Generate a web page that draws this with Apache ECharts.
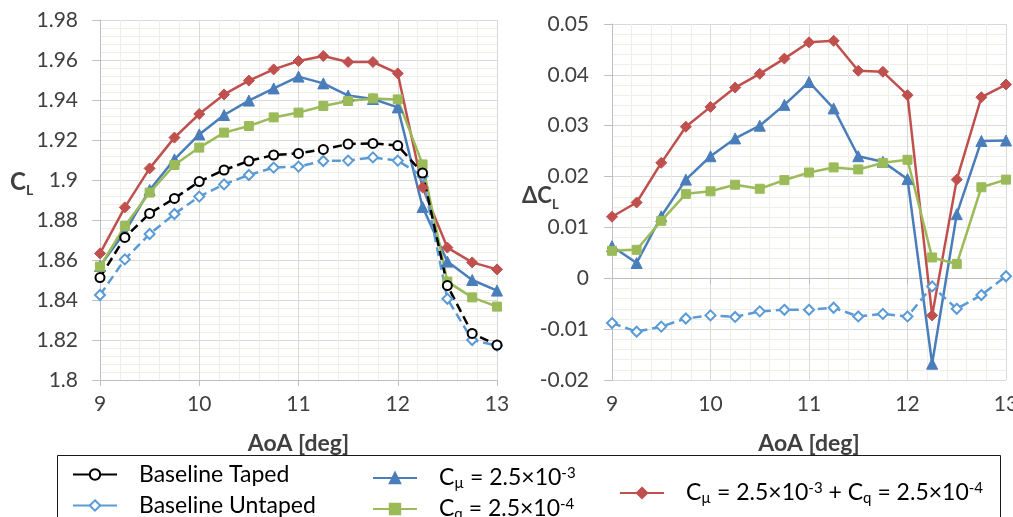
<!DOCTYPE html>
<html>
<head>
<meta charset="utf-8">
<script src="https://cdn.jsdelivr.net/npm/echarts@6/dist/echarts.min.js"></script>
<style>
  html, body { margin: 0; padding: 0; background: #fff; }
  #chart { width: 1013px; height: 517px; }
</style>
</head>
<body>
<div id="chart"></div>
<script>
// Angle of attack stations [deg]
const aoa = [9, 9.25, 9.5, 9.75, 10, 10.25, 10.5, 10.75, 11, 11.25, 11.5, 11.75, 12, 12.25, 12.5, 12.75, 13];

// Lift coefficient C_L
const clTaped   = [1.8512, 1.8713, 1.8833, 1.8908, 1.8992, 1.9050, 1.9095, 1.9125, 1.9133, 1.9153, 1.9180, 1.9183, 1.9172, 1.9035, 1.8472, 1.8233, 1.8175];
const clUntaped = [1.8425, 1.8603, 1.8730, 1.8830, 1.8917, 1.8978, 1.9025, 1.9062, 1.9067, 1.9095, 1.9097, 1.9113, 1.9097, 1.9019, 1.8406, 1.8200, 1.8172];
const clCmu     = [1.8570, 1.8740, 1.8950, 1.9103, 1.9228, 1.9325, 1.9397, 1.9458, 1.9517, 1.9483, 1.9422, 1.9405, 1.9363, 1.8865, 1.8592, 1.8500, 1.8447];
const clCq      = [1.8567, 1.8770, 1.8937, 1.9075, 1.9162, 1.9237, 1.9270, 1.9313, 1.9337, 1.9370, 1.9395, 1.9408, 1.9403, 1.9078, 1.8492, 1.8413, 1.8367];
const clBoth    = [1.8633, 1.8863, 1.9058, 1.9212, 1.9330, 1.9428, 1.9497, 1.9553, 1.9595, 1.9620, 1.9590, 1.9590, 1.9533, 1.8963, 1.8662, 1.8588, 1.8553];

// Lift increment relative to the taped baseline, dC_L
const dclUntaped = [-0.0088, -0.0105, -0.0095, -0.0079, -0.0073, -0.0076, -0.0065, -0.0062, -0.0062, -0.0058, -0.0075, -0.0070, -0.0075, -0.0016, -0.0060, -0.0033, 0.0004];
const dclCmu     = [0.0063, 0.0030, 0.0122, 0.0194, 0.0240, 0.0275, 0.0300, 0.0341, 0.0386, 0.0334, 0.0240, 0.0229, 0.0195, -0.0168, 0.0126, 0.0270, 0.0271];
const dclCq      = [0.0054, 0.0056, 0.0113, 0.0166, 0.0171, 0.0184, 0.0176, 0.0193, 0.0208, 0.0218, 0.0214, 0.0227, 0.0233, 0.0041, 0.0028, 0.0179, 0.0194];
const dclBoth    = [0.0121, 0.0149, 0.0227, 0.0298, 0.0337, 0.0375, 0.0402, 0.0432, 0.0464, 0.0467, 0.0408, 0.0406, 0.0360, -0.0073, 0.0194, 0.0356, 0.0381];

// Axis ticks
const xTicks  = { min: 9, max: 13, step: 1 };
const clTicks = { min: 1.8, max: 1.98, step: 0.02 };
const dTicks  = { min: -0.02, max: 0.05, step: 0.01 };

// Series names (legend)
const NAME_TAPED = 'Baseline Taped';
const NAME_UNTAPED = 'Baseline Untaped';
const NAME_CMU = 'Cmu';
const NAME_CQ = 'Cq';
const NAME_BOTH = 'Cmu+Cq';

const pairs = (ys) => aoa.map((x, i) => [x, ys[i]]);

const FONT = 'Lato, "Open Sans", sans-serif';
const TXT = '#404040';
const C_BLACK = '#000000';
const C_UNTAPED = '#5b9bd5';
const C_CMU = '#4a7ebb';
const C_CQ = '#9bbb59';
const C_BOTH = '#c0504d';

const chart = echarts.init(document.getElementById('chart'), null, { renderer: 'canvas' });

const gridLines = {
  splitLine: { show: true, lineStyle: { color: '#d9d9d9', width: 1 } },
  minorTick: { show: false, splitNumber: 5 },
  minorSplitLine: { show: true, lineStyle: { color: '#efefe8', width: 1 } }
};
const axisLabel = { color: TXT, fontFamily: FONT, fontSize: 21 };
const axisName = { fontFamily: FONT, fontSize: 23, fontWeight: 'bold', color: TXT };

function styled(base, extra) { return Object.assign({}, base, extra); }

const seriesDefs = [
  { name: NAME_BOTH, color: C_BOTH, symbol: 'diamond', size: 11, hollow: false, dashed: false },
  { name: NAME_CMU, color: C_CMU, symbol: 'triangle', size: 11, hollow: false, dashed: false },
  { name: NAME_CQ, color: C_CQ, symbol: 'rect', size: 9, hollow: false, dashed: false },
  { name: NAME_UNTAPED, color: C_UNTAPED, symbol: 'diamond', size: 10, hollow: true, dashed: true },
  { name: NAME_TAPED, color: C_BLACK, symbol: 'circle', size: 9, hollow: true, dashed: true }
];

function makeSeries(def, data, xi, yi) {
  return {
    name: def.name,
    type: 'line',
    xAxisIndex: xi,
    yAxisIndex: yi,
    data: data,
    symbol: def.symbol,
    symbolSize: def.size,
    showAllSymbol: true,
    animation: false,
    lineStyle: { color: def.color, width: 2.5, type: def.dashed ? [9, 5] : 'solid' },
    itemStyle: def.hollow
      ? { color: '#ffffff', borderColor: def.color, borderWidth: 2 }
      : { color: def.color, borderColor: def.color, borderWidth: 1 },
    emphasis: { disabled: true }
  };
}

const leftData = {};
leftData[NAME_TAPED] = clTaped;
leftData[NAME_UNTAPED] = clUntaped;
leftData[NAME_CMU] = clCmu;
leftData[NAME_CQ] = clCq;
leftData[NAME_BOTH] = clBoth;

const rightData = {};
rightData[NAME_UNTAPED] = dclUntaped;
rightData[NAME_CMU] = dclCmu;
rightData[NAME_CQ] = dclCq;
rightData[NAME_BOTH] = dclBoth;

const series = [];
seriesDefs.forEach(d => series.push(makeSeries(d, pairs(leftData[d.name]), 0, 0)));
seriesDefs.forEach(d => { if (rightData[d.name]) series.push(makeSeries(d, pairs(rightData[d.name]), 1, 1)); });

const legendRich = {
  n: { fontFamily: FONT, fontSize: 23, color: '#000', lineHeight: 30, verticalAlign: 'middle' },
  sub: { fontFamily: FONT, fontSize: 15, color: '#000', lineHeight: 30, verticalAlign: 'bottom', padding: [0, 0, 2, 0] },
  sup: { fontFamily: FONT, fontSize: 15, color: '#000', lineHeight: 30, verticalAlign: 'top', padding: [3, 0, 0, 0] }
};
function legendText(name) {
  if (name === NAME_CMU) return '{n|C}{sub|\u00b5}{n| = 2.5\u00d710}{sup|-3}';
  if (name === NAME_CQ) return '{n|C}{sub|q}{n| = 2.5\u00d710}{sup|-4}';
  if (name === NAME_BOTH) return '{n|C}{sub|\u00b5}{n| = 2.5\u00d710}{sup|-3}{n| + C}{sub|q}{n| = 2.5\u00d710}{sup|-4}';
  return '{n|' + name + '}';
}
function legendAt(name, left, cy) {
  return {
    data: [{ name: name, lineStyle: { type: 'solid' } }],
    left: left,
    top: cy - 15,
    orient: 'horizontal',
    itemWidth: 44,
    itemHeight: 13,
    selectedMode: false,
    formatter: legendText,
    textStyle: { rich: legendRich, padding: [0, 0, 0, 17] }
  };
}

const option = {
  backgroundColor: '#ffffff',
  animation: false,
  grid: [
    { left: 100, top: 20, width: 397, height: 360, outerBoundsMode: 'none', containLabel: false },
    { left: 612, top: 24, width: 394, height: 356, outerBoundsMode: 'none', containLabel: false }
  ],
  xAxis: [
    styled(gridLines, {
      type: 'value', gridIndex: 0, min: xTicks.min, max: xTicks.max, interval: xTicks.step,
      position: 'bottom',
      axisLine: { show: true, onZero: false, lineStyle: { color: '#bfbfbf', width: 1 } },
      axisTick: { show: true, length: 6, lineStyle: { color: '#bfbfbf' } },
      axisLabel: styled(axisLabel, { margin: 14, showMaxLabel: true, showMinLabel: true }),
      name: 'AoA [deg]', nameLocation: 'middle', nameGap: 52,
      nameTextStyle: axisName
    }),
    styled(gridLines, {
      type: 'value', gridIndex: 1, min: xTicks.min, max: xTicks.max, interval: xTicks.step,
      position: 'bottom',
      axisLine: { show: false, onZero: false },
      axisTick: { show: false },
      axisLabel: styled(axisLabel, { margin: 14, showMaxLabel: true, showMinLabel: true, hideOverlap: false }),
      name: 'AoA [deg]', nameLocation: 'middle', nameGap: 52,
      nameTextStyle: axisName
    }),
    {
      type: 'value', gridIndex: 1, min: xTicks.min, max: xTicks.max, interval: xTicks.step,
      position: 'bottom',
      axisLine: { show: true, onZero: true, lineStyle: { color: '#bfbfbf', width: 1 } },
      axisTick: { show: true, length: 6, lineStyle: { color: '#bfbfbf' } },
      axisLabel: { show: false },
      splitLine: { show: false }
    }
  ],
  yAxis: [
    styled(gridLines, {
      type: 'value', gridIndex: 0, min: clTicks.min, max: clTicks.max, interval: clTicks.step,
      axisLine: { show: true, onZero: false, lineStyle: { color: '#bfbfbf', width: 1 } },
      axisTick: { show: true, length: 8, lineStyle: { color: '#bfbfbf' } },
      axisLabel: styled(axisLabel, { margin: 22 })
    }),
    styled(gridLines, {
      type: 'value', gridIndex: 1, min: dTicks.min, max: dTicks.max, interval: dTicks.step,
      axisLine: { show: true, onZero: false, lineStyle: { color: '#bfbfbf', width: 1 } },
      axisTick: { show: true, length: 8, lineStyle: { color: '#bfbfbf' } },
      axisLabel: styled(axisLabel, { margin: 23 })
    })
  ],
  legend: [
    legendAt(NAME_TAPED, 67, 473),
    legendAt(NAME_UNTAPED, 67, 504),
    legendAt(NAME_CMU, 367, 473),
    legendAt(NAME_CQ, 367, 504),
    legendAt(NAME_BOTH, 614, 488)
  ],
  graphic: [
    {
      type: 'rect', silent: true,
      shape: { x: 57.5, y: 455.5, width: 943, height: 80 },
      style: { fill: 'none', stroke: '#1a1a1a', lineWidth: 1 }
    },
    {
      type: 'text', silent: true, left: 10, top: 170,
      style: {
        text: '{c|C}{s|L}',
        rich: {
          c: { fontFamily: FONT, fontSize: 24, fontWeight: 'bold', fill: TXT, lineHeight: 30, verticalAlign: 'middle' },
          s: { fontFamily: FONT, fontSize: 14, fontWeight: 'bold', fill: TXT, lineHeight: 30, verticalAlign: 'bottom' }
        }
      }
    },
    {
      type: 'text', silent: true, left: 522, top: 185,
      style: {
        text: '{c|\u0394C}{s|L}',
        rich: {
          c: { fontFamily: FONT, fontSize: 22, fontWeight: 'bold', fill: TXT, lineHeight: 30, verticalAlign: 'middle' },
          s: { fontFamily: FONT, fontSize: 13, fontWeight: 'bold', fill: TXT, lineHeight: 30, verticalAlign: 'bottom' }
        }
      }
    }
  ],
  series: series
};

chart.setOption(option);
</script>
</body>
</html>
